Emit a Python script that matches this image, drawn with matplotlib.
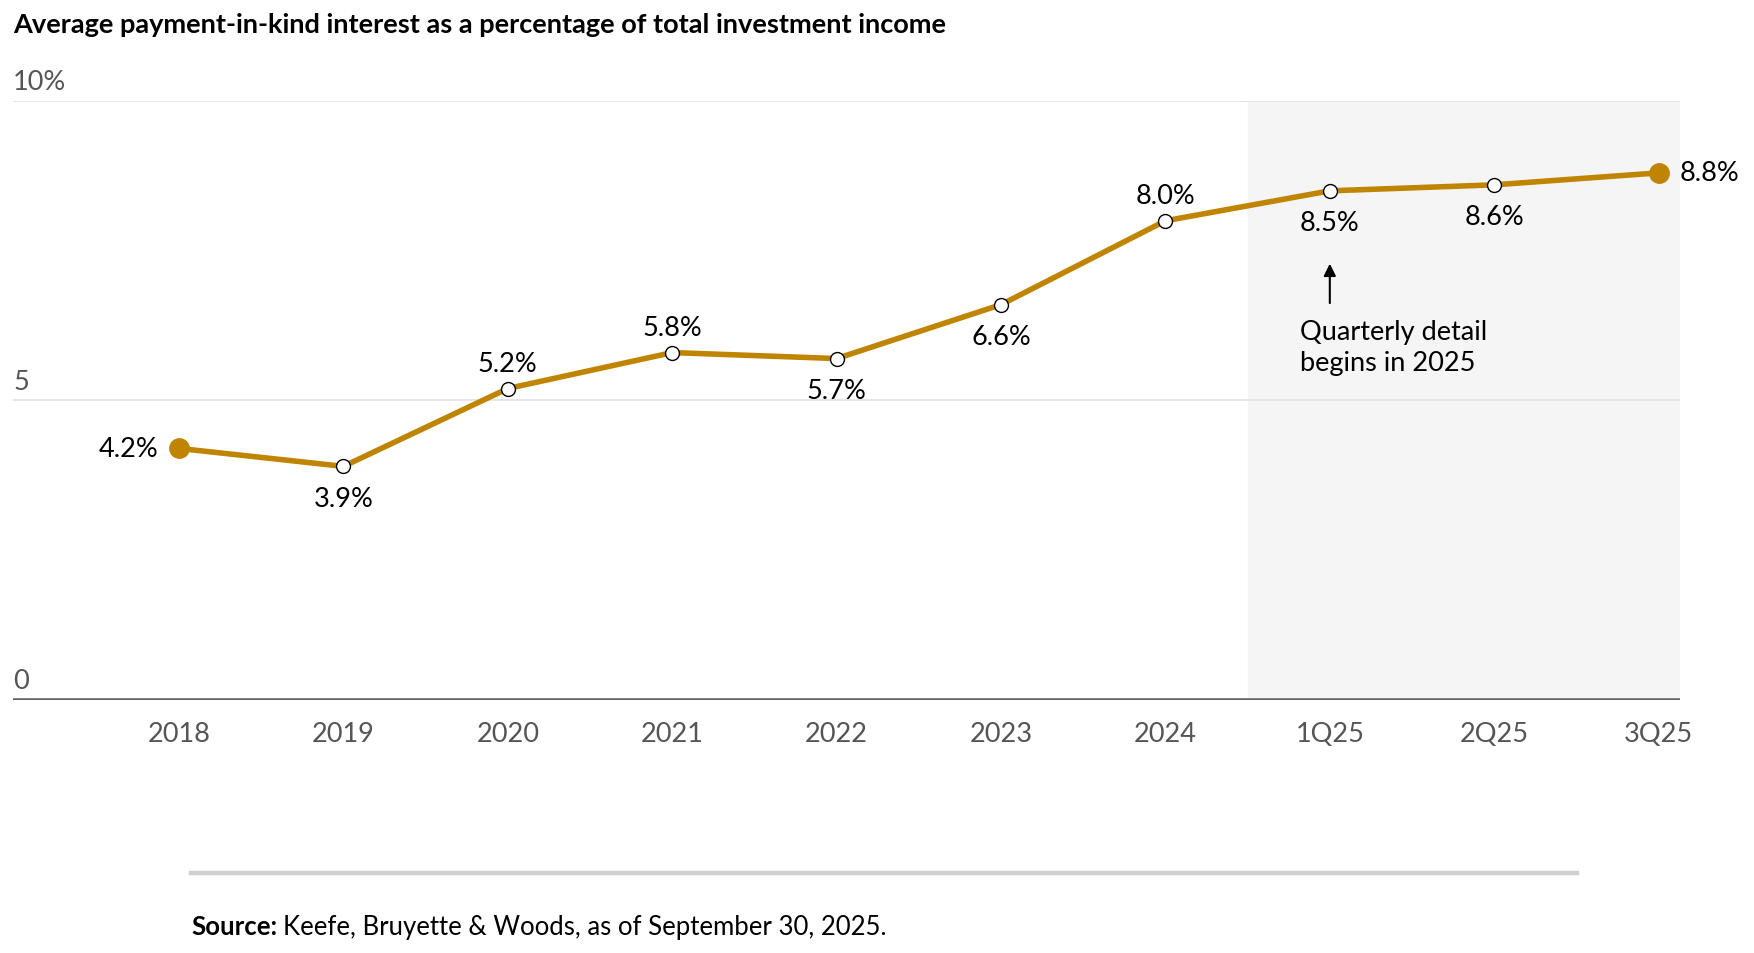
import matplotlib
matplotlib.use("Agg")
import matplotlib.pyplot as plt
from matplotlib.lines import Line2D

plt.rcParams['font.family'] = ['Lato', 'DejaVu Sans']

# data
periods = ['2018', '2019', '2020', '2021', '2022', '2023', '2024', '1Q25', '2Q25', '3Q25']
pik_share = [4.2, 3.9, 5.2, 5.8, 5.7, 6.6, 8.0, 8.5, 8.6, 8.8]
label_side = ['left', 'below', 'above', 'above', 'below', 'below', 'above', 'below', 'below', 'right']
y_ticks = [0, 5, 10]
y_tick_labels = ['0', '5', '10%']

gold = '#C08500'
grey_text = '#555555'
fs = 19.5

fig = plt.figure(figsize=(17.54, 9.54), dpi=100)
ax = fig.add_axes([0.0074, 0.2652, 0.9504, 0.6279])

x = list(range(len(periods)))
ax.set_xlim(-1.01, 9.13)
ax.set_ylim(0, 10)

# shaded quarterly region
ax.axvspan(6.5, 9.13, color='#f5f5f5', zorder=0)

# gridlines
for yt in y_ticks[1:]:
    ax.axhline(yt, color='#e0e0e0', lw=1.2, zorder=1)
ax.axhline(0, color='#666666', lw=2.6, zorder=2)

ax.plot(x, pik_share, color=gold, lw=4, zorder=3, solid_capstyle='round')
ax.plot(x[1:-1], pik_share[1:-1], 'o', ms=10, mfc='white', mec='black', mew=1.0, zorder=4)
ax.plot([x[0], x[-1]], [pik_share[0], pik_share[-1]], 'o', ms=14, color=gold, zorder=4)

for xi, v, side in zip(x, pik_share, label_side):
    txt = f'{v:.1f}%'
    if side == 'left':
        ax.annotate(txt, (xi, v), xytext=(-15, 0), textcoords='offset points',
                    ha='right', va='center', fontsize=fs)
    elif side == 'right':
        ax.annotate(txt, (xi, v), xytext=(15, 0), textcoords='offset points',
                    ha='left', va='center', fontsize=fs)
    elif side == 'above':
        ax.annotate(txt, (xi, v), xytext=(0, 18), textcoords='offset points',
                    ha='center', va='center', fontsize=fs)
    else:
        ax.annotate(txt, (xi, v), xytext=(0, -23), textcoords='offset points',
                    ha='center', va='center', fontsize=fs)

# arrow note
ax.annotate('', xy=(7, 7.33), xytext=(7, 6.58),
            arrowprops=dict(arrowstyle='-|>', color='black', lw=1.5, mutation_scale=18))
ax.text(6.82, 6.36, 'Quarterly detail\nbegins in 2025', ha='left', va='top',
        fontsize=fs, linespacing=1.3)

# axes styling
for s in ax.spines.values():
    s.set_visible(False)
ax.set_xticks(x)
ax.set_xticklabels(periods, fontsize=fs, color=grey_text)
ax.tick_params(axis='x', length=0, pad=15)
ax.set_yticks([])
for yt, lab in zip(y_ticks, y_tick_labels):
    ax.annotate(lab, (0, yt), xycoords=('axes fraction', 'data'), xytext=(0, 5),
                textcoords='offset points', ha='left', va='bottom',
                fontsize=fs, color=grey_text)

fig.text(0.0074, 0.974, 'Average payment-in-kind interest as a percentage of total investment income',
         fontsize=19.5, fontweight='bold', ha='left', va='center')

fig.add_artist(Line2D([0.109, 0.899], [0.0839, 0.0839], color='#d0d0d0', lw=3.2))

src = fig.text(0.109, 0.028, 'Source:', fontsize=18.5, fontweight='bold', ha='left', va='center')
fig.canvas.draw()
bb = src.get_window_extent().transformed(fig.transFigure.inverted())
fig.text(bb.x1 + 0.003, 0.028, 'Keefe, Bruyette & Woods, as of September 30, 2025.',
         fontsize=18.5, ha='left', va='center')

fig.savefig('out.png', dpi=100)
